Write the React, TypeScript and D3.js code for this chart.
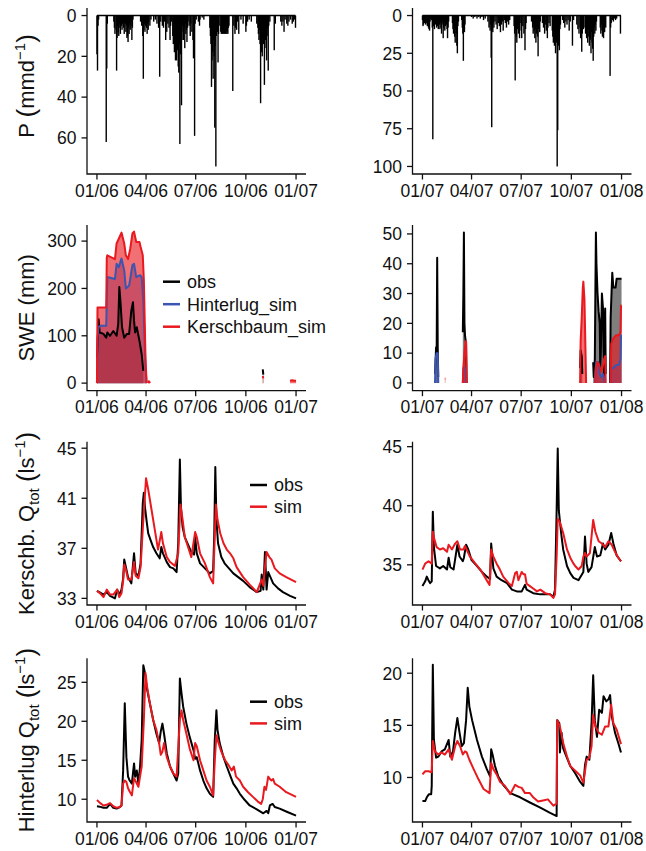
import React from "react";
import * as d3 from "d3";

type Pt = [number, number];

// ---------- Precipitation (mm/d), [day of year, amount]
const precip2006: Pt[] = [
  [0, 19], [1, 27], [2, 5], [3, 2], [17, 62], [18, 26], [19, 4],
  [31, 3], [32, 6], [33, 9], [35, 7], [36, 27], [37, 11], [38, 5], [39, 8], [40, 10], [41, 4], [42, 6], [43, 9], [44, 3], [45, 5], [46, 7], [47, 4], [48, 2], [49, 6], [50, 9], [51, 3], [52, 4], [53, 8], [54, 5], [55, 11], [56, 10], [57, 13], [58, 6], [59, 9], [60, 4], [61, 7], [62, 5], [63, 3], [64, 12], [65, 6], [66, 2],
  [80, 3], [82, 5], [84, 10], [85, 31], [86, 7], [87, 4], [88, 8], [89, 5], [90, 3], [91, 6], [92, 9], [93, 4], [94, 7], [95, 3], [97, 5], [99, 2],
  [104, 3], [107, 2], [110, 4], [113, 6], [115, 30], [117, 3], [120, 5], [122, 6], [124, 3], [126, 12], [128, 8], [130, 4], [132, 6], [134, 12], [135, 5], [137, 3],
  [139, 10], [140, 14], [141, 6], [142, 18], [143, 9], [144, 22], [145, 12], [146, 22], [147, 8], [148, 17], [149, 25], [150, 28], [151, 14], [152, 63], [153, 19], [154, 9], [155, 44], [156, 12], [157, 5], [158, 8], [159, 12], [160, 6], [161, 16], [162, 4], [163, 9], [164, 7], [165, 13], [166, 6], [167, 3], [169, 5], [171, 10], [172, 4], [174, 8], [176, 12], [177, 21], [178, 5], [179, 59], [180, 4], [182, 2],
  [186, 3], [188, 5], [189, 2], [193, 1], [196, 2],
  [207, 6], [208, 10], [209, 14], [210, 35], [211, 22], [212, 18], [213, 31], [214, 12], [215, 20], [216, 55], [217, 15], [218, 74], [219, 10], [220, 6], [221, 8], [222, 23], [223, 9], [224, 5],
  [227, 8], [228, 9], [229, 7], [230, 9], [231, 8], [232, 9], [233, 6], [234, 9], [235, 8], [236, 9], [237, 7], [238, 9], [239, 8], [240, 9], [241, 6], [242, 5],
  [249, 37], [251, 5], [253, 9], [254, 6], [256, 7], [258, 3], [260, 9],
  [264, 2], [268, 4], [273, 8], [274, 5], [276, 3], [279, 2], [283, 3],
  [293, 4], [295, 6], [296, 9], [297, 12], [298, 7], [299, 14], [300, 43], [301, 10], [302, 18], [303, 20], [304, 11], [305, 14], [306, 9], [307, 34], [308, 16], [309, 12], [310, 8], [311, 22], [312, 10], [313, 6], [314, 27], [315, 5], [317, 3],
  [325, 17], [327, 4],
  [337, 3], [339, 5], [341, 3], [343, 8], [345, 2], [348, 4], [350, 5], [352, 3], [355, 2], [358, 4], [360, 3], [362, 2], [364, 6],
];

const precip2007: Pt[] = [
  [0, 3], [1, 7], [2, 6], [3, 4], [4, 5], [5, 3], [6, 6], [7, 4], [8, 5], [9, 7], [10, 3], [11, 8], [12, 9], [13, 10], [14, 4], [15, 2], [17, 3], [18, 8], [19, 82], [20, 7], [21, 5], [22, 9], [23, 4], [24, 6], [25, 3], [26, 8], [27, 5], [28, 7], [29, 9], [30, 4], [31, 6], [32, 9], [33, 5], [34, 8], [35, 12], [36, 6], [37, 4], [38, 15], [39, 8], [40, 5], [41, 10], [42, 7], [43, 3], [44, 6], [45, 9], [46, 15], [47, 8], [48, 4],
  [55, 5], [56, 9], [57, 12], [58, 7], [59, 14], [60, 18], [61, 9], [62, 12], [63, 20], [64, 25], [65, 7], [66, 4],
  [72, 3], [73, 8], [74, 12], [75, 30], [76, 10], [77, 11], [78, 6],
  [90, 1], [93, 2], [96, 1], [100, 2], [103, 1], [106, 2], [109, 1], [112, 3], [115, 2],
  [120, 4], [122, 8], [124, 10], [125, 6], [126, 28], [127, 74], [128, 9], [129, 11], [130, 5], [131, 8], [133, 4], [135, 6], [137, 9], [139, 5], [141, 7], [143, 11], [145, 6], [147, 4], [148, 10], [150, 3], [152, 5], [154, 8], [156, 4], [158, 6], [160, 3],
  [168, 7], [169, 12], [170, 43], [171, 10], [172, 14], [173, 18], [174, 9], [175, 6], [176, 12], [177, 8], [178, 15], [179, 5], [181, 10], [182, 15], [184, 7], [186, 12], [188, 23], [189, 9], [190, 5],
  [200, 4], [202, 8], [203, 12], [204, 6], [205, 10], [206, 15], [207, 9], [208, 18], [209, 12], [210, 7], [211, 14], [212, 27], [213, 9], [214, 6], [215, 11], [216, 4],
  [220, 5], [222, 8], [224, 12], [225, 6], [227, 10], [229, 15], [230, 8], [232, 5], [234, 7],
  [238, 10], [239, 14], [240, 18], [241, 12], [242, 20], [243, 16], [244, 25], [245, 11], [246, 18], [247, 100], [248, 76], [249, 20], [250, 14], [251, 23], [252, 9], [253, 6],
  [257, 3], [259, 5], [261, 8], [263, 4], [265, 6], [267, 3], [269, 10], [271, 4],
  [275, 20], [277, 3],
  [283, 6], [285, 9], [287, 12], [289, 8], [290, 15], [291, 10], [292, 24], [293, 12], [294, 6], [295, 9],
  [298, 8], [299, 12], [300, 6], [301, 15], [302, 10], [303, 18], [304, 9], [305, 14], [306, 20], [307, 12], [308, 16], [309, 25], [310, 11], [311, 18], [312, 22], [313, 30], [314, 14], [315, 8], [316, 12], [317, 6], [318, 10], [319, 4],
  [326, 8], [327, 12], [328, 6], [329, 10], [330, 14], [331, 9], [332, 15], [333, 7], [334, 11], [335, 5], [336, 8],
  [344, 40], [345, 8], [346, 5], [348, 3], [350, 4], [352, 2], [354, 3], [356, 2],
  [363, 12],
];

// ---------- Snow water equivalent (mm), runs of consecutive days
const sweObs2006: Pt[][] = [
  [[0, 54], [2, 104], [3, 135], [5, 107], [12, 104], [17, 96], [19, 107], [24, 100], [30, 110], [36, 100], [39, 125], [41, 203], [43, 174], [46, 118], [50, 96], [55, 104], [59, 104], [63, 153], [66, 171], [68, 132], [70, 107], [73, 118], [78, 89], [82, 61], [85, 26]],
  [[304, 29], [305, 18]],
];
const sweHint2006: Pt[][] = [
  [[0, 0], [1, 96], [3, 118], [6, 121], [17, 121], [19, 224], [33, 220], [36, 252], [40, 245], [45, 263], [50, 238], [53, 200], [59, 206], [65, 249], [68, 252], [72, 224], [79, 228], [82, 224], [85, 174], [89, 33], [91, 0]],
];
const sweKersch2006: Pt[][] = [
  [[0, 0], [1, 160], [17, 160], [18, 265], [19, 270], [33, 262], [36, 295], [40, 305], [45, 318], [50, 295], [53, 270], [57, 262], [61, 284], [65, 316], [68, 320], [72, 298], [78, 298], [80, 288], [84, 270], [86, 217], [89, 54], [91, 0]],
  [[94, 0], [95, 4], [96, 3], [97, 0]],
  [[304, 15], [305, 10]],
  [[354, 5], [358, 6], [362, 5], [365, 5]],
];

const sweObs2007: Pt[][] = [
  [[23, 3], [25, 12], [26, 9], [27, 42], [28, 12], [29, 2]],
  [[74, 17], [75, 30], [76, 50.5], [77, 20], [78, 16], [80, 13], [81, 0]],
  [[289, 5], [290, 11], [292, 9], [293, 3]],
  [[313, 7], [314, 2], [316, 8], [317, 30], [318, 50.5], [319, 40], [321, 30], [323, 24], [325, 20], [326, 5], [327, 10], [329, 30], [331, 25], [332, 12], [333, 2], [334, 20], [335, 25], [336, 3]],
  [[344, 0], [345, 22], [348, 37], [350, 32], [354, 32], [356, 35], [364, 35], [365, 35]],
];
const sweHint2007: Pt[][] = [
  [[23, 0], [24, 8], [26, 10], [28, 10], [29, 0]],
  [[74, 0], [75, 5], [79, 5], [80, 0]],
  [[316, 0], [317, 4], [319, 7], [322, 7], [325, 3], [328, 2], [331, 3], [333, 2], [334, 0]],
  [[345, 0], [346, 5], [350, 5], [355, 6], [360, 6], [363, 8], [364, 16], [365, 16]],
];
const sweKersch2007: Pt[][] = [
  [[41, 1.5], [42, 1.5]],
  [[74, 0], [75, 5], [77, 10], [79, 14], [80, 14], [81, 0]],
  [[289, 0], [290, 14], [292, 22], [294, 32], [295, 34], [297, 28], [299, 10], [300, 0]],
  [[317, 0], [318, 5], [321, 7], [324, 6], [327, 4], [330, 5], [333, 8], [335, 9], [336, 0]],
  [[345, 0], [346, 13], [350, 15], [355, 16], [360, 16], [363, 17], [364, 26], [365, 26]],
];

// ---------- Kerschbaum total discharge (l/s)
const kerschObs2006: Pt[] = [
  [0, 33.6], [6, 33.45], [12, 33.3], [18, 33.5], [24, 33.2], [33, 33.0], [37, 33.7], [41, 33.3], [45, 33.7], [48, 34.6], [50, 36.1], [53, 35.5], [57, 34.7], [63, 34.2], [68, 36.6], [71, 35.0], [76, 34.8], [80, 35.8], [84, 40.6], [86, 41.45], [88, 40.3], [91, 39.2], [94, 38.2], [98, 37.7], [103, 37.1], [109, 36.6], [115, 36.2], [118, 37.1], [121, 36.6], [128, 35.9], [134, 35.5], [140, 35.4], [146, 35.1], [149, 37.4], [152, 44.1], [154, 40.3], [157, 38.7], [161, 37.9], [167, 37.3], [173, 36.7], [178, 36.5], [180, 37.9], [183, 36.6], [189, 35.8], [198, 35.4], [207, 35.0], [213, 35.2], [215, 38.0], [217, 43.5], [219, 39.3], [222, 37.4], [228, 36.3], [234, 35.8], [244, 35.3], [250, 35.0], [259, 34.7], [268, 34.4], [280, 33.9], [293, 33.5], [300, 33.6], [302, 34.9], [305, 33.7], [308, 36.7], [311, 33.7], [314, 35.1], [318, 34.7], [323, 34.2], [332, 33.8], [341, 33.5], [354, 33.2], [365, 33.0],
];
const kerschSim2006: Pt[] = [
  [0, 33.6], [6, 33.4], [12, 33.1], [18, 33.7], [24, 33.3], [30, 33.3], [37, 33.7], [41, 33.1], [45, 33.4], [48, 34.4], [50, 35.7], [53, 35.3], [57, 34.5], [63, 34.5], [68, 35.9], [71, 34.8], [76, 34.6], [80, 35.5], [85, 39.3], [90, 42.6], [94, 41.7], [100, 40.1], [106, 38.5], [112, 36.9], [118, 38.3], [121, 37.4], [128, 36.3], [134, 35.9], [143, 35.6], [149, 36.6], [153, 40.5], [157, 39.3], [161, 37.9], [167, 37.1], [173, 36.3], [180, 38.3], [183, 37.9], [189, 36.6], [198, 35.8], [207, 34.7], [213, 34.2], [218, 40.5], [221, 39.3], [226, 38.2], [232, 37.4], [238, 36.9], [244, 36.6], [250, 36.2], [256, 35.5], [262, 35.1], [268, 34.7], [280, 34.1], [293, 33.5], [302, 34.5], [305, 34.0], [308, 35.5], [311, 36.7], [316, 36.3], [320, 36.1], [326, 35.4], [335, 35.0], [347, 34.7], [356, 34.5], [365, 34.3],
];
const kerschObs2007: Pt[] = [
  [0, 33.2], [5, 33.6], [8, 34.0], [11, 33.7], [14, 33.45], [17, 33.6], [19, 39.5], [21, 36.5], [25, 34.9], [32, 34.7], [38, 34.9], [45, 34.6], [48, 35.6], [51, 34.8], [57, 34.6], [62, 36.1], [64, 36.7], [68, 35.7], [74, 35.3], [76, 35.6], [80, 36.7], [84, 36.3], [90, 35.4], [100, 34.9], [109, 34.4], [118, 34.0], [124, 33.8], [126, 36.8], [130, 34.7], [136, 34.0], [145, 33.7], [155, 33.45], [164, 32.9], [173, 32.75], [182, 32.75], [188, 33.3], [191, 32.9], [203, 32.6], [216, 32.5], [234, 32.5], [240, 32.3], [243, 32.9], [246, 39.6], [248, 44.85], [250, 39.6], [252, 38.7], [255, 37.4], [258, 36.3], [265, 34.9], [271, 34.3], [277, 33.9], [286, 33.7], [295, 34.4], [298, 37.4], [301, 35.1], [304, 34.4], [310, 34.8], [316, 36.5], [320, 35.7], [326, 35.8], [331, 36.8], [335, 36.3], [341, 36.7], [346, 37.7], [350, 36.8], [356, 35.8], [364, 35.3],
];
const kerschSim2007: Pt[] = [
  [0, 34.6], [5, 35.1], [11, 35.3], [17, 35.1], [19, 37.8], [21, 37.3], [26, 36.5], [32, 36.3], [38, 36.4], [45, 36.1], [48, 36.7], [54, 36.3], [60, 36.8], [64, 37.0], [69, 36.3], [75, 36.3], [78, 36.6], [81, 36.3], [87, 35.7], [97, 35.1], [106, 34.6], [115, 33.9], [123, 33.3], [126, 36.3], [130, 35.7], [136, 35.1], [142, 34.6], [148, 34.0], [158, 33.45], [164, 33.2], [170, 34.3], [173, 34.4], [176, 33.7], [182, 34.4], [185, 34.2], [188, 34.2], [191, 33.4], [197, 33.2], [203, 33.0], [210, 32.75], [216, 32.9], [225, 32.6], [234, 32.5], [240, 32.2], [243, 32.5], [246, 35.7], [248, 38.9], [252, 38.6], [258, 37.7], [265, 36.3], [271, 35.6], [277, 35.1], [280, 34.9], [286, 34.6], [292, 34.9], [295, 35.7], [298, 36.0], [301, 35.7], [307, 36.0], [313, 38.8], [317, 37.8], [323, 37.0], [329, 36.8], [335, 36.5], [341, 37.0], [347, 36.7], [353, 36.1], [359, 35.6], [364, 35.3],
];

// ---------- Hinterlug total discharge (l/s)
const hintObs2006: Pt[] = [
  [0, 9.1], [5, 9.05], [12, 8.9], [18, 8.9], [24, 9.4], [30, 8.9], [36, 8.8], [42, 9.0], [45, 9.2], [48, 13.7], [51, 22.3], [54, 15.4], [57, 12.9], [60, 12.4], [64, 12.0], [68, 14.6], [70, 12.9], [73, 13.7], [76, 12.0], [79, 14.2], [82, 17.6], [85, 27.2], [88, 26.2], [91, 24.4], [97, 22.3], [103, 20.2], [109, 18.4], [114, 17.2], [117, 18.7], [120, 19.7], [123, 18.4], [128, 15.9], [134, 14.2], [140, 13.3], [146, 12.4], [149, 13.3], [152, 25.5], [155, 23.6], [158, 21.9], [164, 19.7], [170, 18.0], [177, 16.3], [180, 15.2], [183, 15.4], [189, 13.7], [195, 12.4], [201, 11.4], [207, 10.7], [213, 10.3], [216, 17.6], [219, 21.4], [221, 18.9], [225, 17.2], [232, 15.4], [238, 14.2], [244, 13.1], [250, 12.0], [256, 11.4], [262, 10.7], [271, 9.9], [280, 9.2], [293, 8.7], [305, 8.2], [311, 8.5], [314, 8.2], [317, 9.2], [322, 9.4], [326, 9.0], [335, 8.8], [348, 8.4], [365, 7.9],
];
const hintSim2006: Pt[] = [
  [0, 9.9], [6, 9.5], [12, 9.2], [18, 9.3], [24, 9.5], [30, 9.1], [36, 8.9], [42, 9.0], [45, 9.2], [48, 12.0], [51, 12.4], [54, 12.2], [57, 11.4], [60, 11.0], [64, 10.5], [68, 12.7], [71, 12.3], [76, 11.6], [79, 12.9], [82, 14.2], [86, 20.2], [89, 26.2], [92, 24.4], [97, 22.3], [103, 20.2], [109, 18.9], [114, 17.2], [117, 15.7], [120, 16.1], [123, 17.2], [128, 15.4], [134, 14.2], [140, 13.3], [146, 12.9], [152, 20.2], [155, 21.4], [158, 20.2], [164, 18.4], [170, 16.5], [177, 15.0], [180, 17.2], [183, 16.8], [189, 15.0], [195, 13.7], [201, 12.4], [207, 11.6], [213, 10.5], [216, 15.0], [219, 18.2], [223, 17.2], [228, 16.1], [235, 15.0], [241, 14.4], [247, 13.7], [251, 14.2], [255, 12.9], [262, 12.4], [268, 11.6], [277, 10.9], [286, 10.3], [295, 9.7], [301, 9.4], [304, 10.0], [307, 11.6], [310, 11.2], [314, 12.9], [317, 12.6], [320, 12.4], [323, 12.6], [326, 12.0], [335, 11.6], [347, 10.9], [365, 10.3],
];
const hintObs2007: Pt[] = [
  [0, 7.74], [5, 7.74], [8, 8.1], [12, 8.4], [16, 8.4], [17, 9.2], [19, 20.8], [21, 13.6], [25, 11.9], [29, 12.0], [35, 12.5], [41, 12.7], [48, 13.6], [51, 12.0], [56, 12.5], [60, 14.3], [64, 15.7], [68, 14.3], [72, 13.0], [76, 13.3], [80, 15.5], [83, 18.6], [86, 16.8], [91, 15.5], [100, 13.6], [109, 12.0], [118, 10.8], [124, 10.1], [126, 12.7], [129, 12.1], [133, 11.1], [139, 10.1], [148, 9.3], [161, 8.5], [179, 8.1], [197, 7.6], [216, 7.1], [234, 6.6], [246, 6.3], [247, 15.5], [251, 15.2], [252, 12.4], [255, 14.3], [258, 12.8], [264, 12.0], [271, 11.1], [280, 10.4], [289, 9.6], [295, 9.2], [298, 11.2], [301, 12.0], [306, 11.7], [310, 15.2], [313, 19.8], [316, 15.5], [320, 13.9], [324, 16.5], [329, 16.2], [332, 17.8], [337, 17.3], [341, 17.5], [344, 17.9], [347, 15.9], [353, 14.3], [359, 13.3], [364, 12.4],
];
const hintSim2007: Pt[] = [
  [0, 10.3], [5, 10.6], [11, 10.6], [17, 10.5], [19, 13.5], [23, 12.5], [29, 12.2], [35, 12.4], [41, 12.2], [48, 12.7], [54, 11.7], [60, 13.0], [64, 13.5], [69, 13.0], [74, 12.2], [78, 12.5], [81, 12.4], [86, 11.7], [93, 10.9], [103, 9.8], [112, 8.9], [123, 8.5], [126, 11.4], [130, 10.8], [136, 10.3], [142, 9.6], [151, 9.2], [161, 8.4], [170, 9.3], [176, 9.1], [182, 9.0], [188, 8.5], [197, 8.5], [203, 8.1], [212, 7.7], [221, 7.8], [230, 7.9], [240, 7.3], [246, 7.5], [247, 15.5], [252, 14.9], [258, 13.3], [265, 12.0], [271, 11.1], [277, 10.8], [283, 10.5], [289, 10.2], [295, 9.5], [301, 11.7], [306, 11.9], [310, 13.0], [313, 16.0], [317, 14.9], [323, 14.3], [329, 14.1], [335, 14.9], [341, 14.9], [346, 17.0], [350, 15.2], [356, 14.6], [364, 13.2],
];

// ---------- axis ticks and labels
const years = [2006, 2007];
const tickMonths = [0, 3, 6, 9, 12];
const precipTicks = [[0, 20, 40, 60], [0, 25, 50, 75, 100]];
const sweTicks = [[0, 100, 200, 300], [0, 10, 20, 30, 40, 50]];
const kerschTicks = [[33, 37, 41, 45], [35, 40, 45]];
const hintTicks = [[10, 15, 20, 25], [10, 15, 20]];
const precipDomain = [[-3.7, 77.7], [-5, 105]];
const sweDomain = [[-16, 334], [-2.6, 53]];
const kerschDomain = [[32.47, 45.52], [31.6, 45.42]];
const hintDomain = [[7.08, 28.08], [5.73, 21.43]];
const sweLegend = ["obs", "Hinterlug_sim", "Kerschbaum_sim"];
const qLegend = ["obs", "sim"];

// ---------- layout and style
const FONT = "'Liberation Sans', Arial, Helvetica, sans-serif";
const COLS = [{ x0: 87, x1: 306 }, { x0: 412.5, x1: 631.5 }];
const ROWS = [
  { y0: 8, y1: 174 },
  { y0: 225, y1: 390.7 },
  { y0: 441.7, y1: 605 },
  { y0: 658.3, y1: 822 },
];
const RED = "#e8191f";
const BLUE = "#3b55b0";
const DAY = 86400000;

const dayDate = (year: number, d: number) => new Date(Date.UTC(year, 0, 1) + d * DAY);

function xScale(year: number, c: number) {
  return d3
    .scaleUtc()
    .domain([dayDate(year, -18.25), dayDate(year, 365 + 18.25)])
    .range([COLS[c].x0, COLS[c].x1]);
}

function Axes({ c, r, year, y, ticks }: any) {
  const col = COLS[c];
  const row = ROWS[r];
  const x = xScale(year, c);
  const fmt = d3.utcFormat("%m/%y");
  const xt = tickMonths.map((m) => new Date(Date.UTC(year, m, 1)));
  return (
    <g fontFamily={FONT} fontSize={17.5} fill="#111">
      <path
        d={`M${col.x0},${row.y0}V${row.y1}H${col.x1}`}
        fill="none"
        stroke="#111"
        strokeWidth={1.3}
      />
      {ticks.map((t: number) => (
        <g key={t}>
          <line x1={col.x0 - 5.5} x2={col.x0} y1={y(t)} y2={y(t)} stroke="#111" strokeWidth={1.3} />
          <text x={col.x0 - 10.5} y={y(t)} dy="0.36em" textAnchor="end">
            {t}
          </text>
        </g>
      ))}
      {xt.map((t) => (
        <g key={+t}>
          <line x1={x(t)} x2={x(t)} y1={row.y1} y2={row.y1 + 5.5} stroke="#111" strokeWidth={1.3} />
          <text x={x(t)} y={row.y1 + 22.5} textAnchor="middle">
            {fmt(t)}
          </text>
        </g>
      ))}
    </g>
  );
}

function PrecipPanel({ c }: { c: number }) {
  const year = years[c];
  const data = c === 0 ? precip2006 : precip2007;
  const x = xScale(year, c);
  const row = ROWS[0];
  const y = d3.scaleLinear().domain(precipDomain[c]).range([row.y0, row.y1]);
  return (
    <g>
      <line
        x1={x(dayDate(year, 0))}
        x2={x(dayDate(year, 364))}
        y1={y(0)}
        y2={y(0)}
        stroke="#000"
        strokeWidth={1.6}
      />
      {data.map(([d, v]) => (
        <rect
          key={d}
          x={x(dayDate(year, d)) - 0.7}
          width={1.4}
          y={y(0)}
          height={y(v) - y(0)}
          fill="#000"
        />
      ))}
      <Axes c={c} r={0} year={year} y={y} ticks={precipTicks[c]} />
    </g>
  );
}

function SwePanel({ c }: { c: number }) {
  const year = years[c];
  const x = xScale(year, c);
  const row = ROWS[1];
  const y = d3.scaleLinear().domain(sweDomain[c]).range([row.y1, row.y0]);
  const obs = c === 0 ? sweObs2006 : sweObs2007;
  const hint = c === 0 ? sweHint2006 : sweHint2007;
  const ker = c === 0 ? sweKersch2006 : sweKersch2007;
  const area = d3
    .area<Pt>()
    .x((p) => x(dayDate(year, p[0])))
    .y0(y(0))
    .y1((p) => y(p[1]));
  const line = d3
    .line<Pt>()
    .x((p) => x(dayDate(year, p[0])))
    .y((p) => y(p[1]));
  const series = [
    { segs: obs, color: "#000", fill: "rgba(0,0,0,0.5)" },
    { segs: hint, color: BLUE, fill: "rgba(59,85,176,0.5)" },
    { segs: ker, color: RED, fill: "rgba(232,25,31,0.62)" },
  ];
  return (
    <g>
      {series.map((s, i) =>
        s.segs.map((seg, j) => <path key={`a${i}-${j}`} d={area(seg) || ""} fill={s.fill} />)
      )}
      {series.map((s, i) =>
        s.segs.map((seg, j) => (
          <path
            key={`l${i}-${j}`}
            d={line(seg) || ""}
            fill="none"
            stroke={s.color}
            strokeWidth={2}
            strokeLinejoin="round"
          />
        ))
      )}
      <Axes c={c} r={1} year={year} y={y} ticks={sweTicks[c]} />
    </g>
  );
}

function QPanel({ c, r, obs, sim, domain, ticks }: any) {
  const year = years[c];
  const x = xScale(year, c);
  const row = ROWS[r];
  const y = d3.scaleLinear().domain(domain).range([row.y1, row.y0]);
  const line = d3
    .line<Pt>()
    .x((p) => x(dayDate(year, p[0])))
    .y((p) => y(p[1]));
  return (
    <g>
      <path d={line(obs) || ""} fill="none" stroke="#000" strokeWidth={2} strokeLinejoin="round" />
      <path d={line(sim) || ""} fill="none" stroke={RED} strokeWidth={2} strokeLinejoin="round" />
      <Axes c={c} r={r} year={year} y={y} ticks={ticks} />
    </g>
  );
}

function Legend({ x, y, labels, colors, step }: any) {
  return (
    <g fontFamily={FONT} fontSize={18} fill="#111">
      {labels.map((l: string, i: number) => (
        <g key={l}>
          <line x1={x} x2={x + 17} y1={y + i * step} y2={y + i * step} stroke={colors[i]} strokeWidth={2.5} />
          <text x={x + 24} y={y + i * step} dy="0.35em">
            {l}
          </text>
        </g>
      ))}
    </g>
  );
}

function YTitle({ r, cy, children }: any) {
  const row = ROWS[r];
  const mid = cy ?? (row.y0 + row.y1) / 2;
  return (
    <text
      transform={`translate(34,${mid}) rotate(-90)`}
      textAnchor="middle"
      fontFamily={FONT}
      fontSize={22}
      fill="#111"
    >
      {children}
    </text>
  );
}

export default function App() {
  return (
    <svg
      width={646}
      height={851}
      viewBox="0 0 646 851"
      style={{ position: "absolute", left: 0, top: 0, background: "#fff" }}
    >
      <rect width={646} height={851} fill="#fff" />
      <PrecipPanel c={0} />
      <PrecipPanel c={1} />
      <SwePanel c={0} />
      <SwePanel c={1} />
      <QPanel c={0} r={2} obs={kerschObs2006} sim={kerschSim2006} domain={kerschDomain[0]} ticks={kerschTicks[0]} />
      <QPanel c={1} r={2} obs={kerschObs2007} sim={kerschSim2007} domain={kerschDomain[1]} ticks={kerschTicks[1]} />
      <QPanel c={0} r={3} obs={hintObs2006} sim={hintSim2006} domain={hintDomain[0]} ticks={hintTicks[0]} />
      <QPanel c={1} r={3} obs={hintObs2007} sim={hintSim2007} domain={hintDomain[1]} ticks={hintTicks[1]} />

      <Legend x={163} y={281.7} labels={sweLegend} colors={["#000", BLUE, RED]} step={22.5} />
      <Legend x={250} y={485} labels={qLegend} colors={["#000", RED]} step={21.7} />
      <Legend x={250} y={701.7} labels={qLegend} colors={["#000", RED]} step={21.7} />

      <YTitle r={0} cy={86}>
        <tspan>P </tspan>
        <tspan fontSize={26} dy="1">(</tspan>
        <tspan dy="-1">mmd</tspan>
        <tspan fontSize={15} dy="-9">−1</tspan>
        <tspan fontSize={26} dy="10">)</tspan>
      </YTitle>
      <YTitle r={1}>SWE (mm)</YTitle>
      <YTitle r={2}>
        <tspan>Kerschb. Q</tspan>
        <tspan fontSize={15} dy="5">tot</tspan>
        <tspan dy="-4"> </tspan>
        <tspan fontSize={26}>(</tspan>
        <tspan dy="-1">ls</tspan>
        <tspan fontSize={15} dy="-9">−1</tspan>
        <tspan fontSize={26} dy="10">)</tspan>
      </YTitle>
      <YTitle r={3}>
        <tspan>Hinterlug Q</tspan>
        <tspan fontSize={15} dy="5">tot</tspan>
        <tspan dy="-4"> </tspan>
        <tspan fontSize={26}>(</tspan>
        <tspan dy="-1">ls</tspan>
        <tspan fontSize={15} dy="-9">−1</tspan>
        <tspan fontSize={26} dy="10">)</tspan>
      </YTitle>
    </svg>
  );
}
